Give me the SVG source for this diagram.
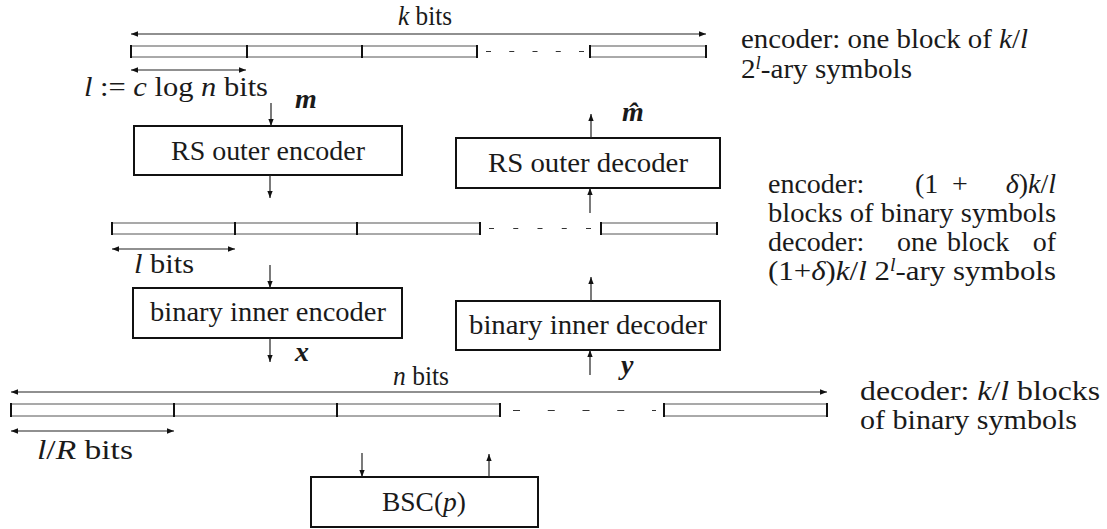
<svg xmlns="http://www.w3.org/2000/svg" width="1107" height="529" viewBox="0 0 1107 529" font-family="'Liberation Serif', 'Times New Roman', serif" font-size="28">
<defs>
  <marker id="ah" viewBox="0 0 10 10" refX="10" refY="5" markerWidth="7" markerHeight="7" orient="auto-start-reverse" markerUnits="userSpaceOnUse">
    <path d="M0,1.2 L10,5 L0,8.8 z" fill="#111"/>
  </marker>
</defs>
<style>
  text{fill:#1a1a1a}
  .i{font-style:italic}
  .bi{font-weight:bold;font-style:italic}
  .box{fill:#fff;stroke:#111;stroke-width:2}
  .cell{fill:#fff;stroke:#555;stroke-width:1}
  .div{stroke:#111;stroke-width:2}
  .dash{stroke:#333;stroke-width:1.2}
  .ar{stroke:#222;stroke-width:1.2;fill:none;marker-end:url(#ah)}
  .dar{stroke:#222;stroke-width:1.2;fill:none;marker-start:url(#ah);marker-end:url(#ah)}
</style>

<!-- symbol rows -->
<g id="row-k">
  <text x="425" y="25" text-anchor="middle" textLength="54" lengthAdjust="spacingAndGlyphs"><tspan class="i">k</tspan> bits</text>
  <line class="dar" x1="131" y1="34" x2="706" y2="34"/>
  <rect class="cell" x="131" y="46" width="346" height="11"/>
  <rect class="cell" x="590" y="46" width="116" height="11"/>
  <line class="div" x1="131" y1="45" x2="131" y2="58"/>
  <line class="div" x1="247" y1="45" x2="247" y2="58"/>
  <line class="div" x1="362" y1="45" x2="362" y2="58"/>
  <line class="div" x1="477" y1="45" x2="477" y2="58"/>
  <line class="div" x1="590" y1="45" x2="590" y2="58"/>
  <line class="div" x1="706" y1="45" x2="706" y2="58"/>
  <line class="dash" x1="486" y1="51.5" x2="584" y2="51.5" stroke-dasharray="5 18.25"/>
  <line class="dar" x1="131" y1="70" x2="246" y2="70"/>
  <text x="84" y="96" textLength="184" lengthAdjust="spacingAndGlyphs"><tspan class="i">l</tspan> := <tspan class="i">c</tspan> log <tspan class="i">n</tspan> bits</text>
</g>

<g id="row-mid">
  <rect class="cell" x="112" y="223" width="368" height="11"/>
  <rect class="cell" x="601" y="223" width="116" height="11"/>
  <line class="div" x1="112" y1="222" x2="112" y2="235"/>
  <line class="div" x1="235" y1="222" x2="235" y2="235"/>
  <line class="div" x1="357" y1="222" x2="357" y2="235"/>
  <line class="div" x1="480" y1="222" x2="480" y2="235"/>
  <line class="div" x1="601" y1="222" x2="601" y2="235"/>
  <line class="div" x1="717" y1="222" x2="717" y2="235"/>
  <line class="dash" x1="489" y1="228.5" x2="591" y2="228.5" stroke-dasharray="5 19.25"/>
  <line class="dar" x1="112" y1="249" x2="235" y2="249"/>
  <text x="134" y="273" textLength="60" lengthAdjust="spacingAndGlyphs"><tspan class="i">l</tspan> bits</text>
</g>

<g id="row-n">
  <text x="421" y="385" text-anchor="middle" textLength="56" lengthAdjust="spacingAndGlyphs"><tspan class="i">n</tspan> bits</text>
  <line class="dar" x1="11" y1="392" x2="827" y2="392"/>
  <rect class="cell" x="11" y="404" width="489" height="12"/>
  <rect class="cell" x="664" y="404" width="163" height="12"/>
  <line class="div" x1="11" y1="403" x2="11" y2="417"/>
  <line class="div" x1="174" y1="403" x2="174" y2="417"/>
  <line class="div" x1="337" y1="403" x2="337" y2="417"/>
  <line class="div" x1="500" y1="403" x2="500" y2="417"/>
  <line class="div" x1="664" y1="403" x2="664" y2="417"/>
  <line class="div" x1="827" y1="403" x2="827" y2="417"/>
  <line class="dash" x1="513" y1="410.5" x2="656" y2="410.5" stroke-dasharray="7 27.75"/>
  <line class="dar" x1="11" y1="431" x2="174" y2="431"/>
  <text x="37" y="459" textLength="96" lengthAdjust="spacingAndGlyphs"><tspan class="i">l</tspan>/<tspan class="i">R</tspan> bits</text>
</g>

<!-- processing blocks -->
<g id="rs-encoder">
  <rect class="box" x="134" y="126" width="268" height="49"/>
  <text x="268" y="160" text-anchor="middle" textLength="194" lengthAdjust="spacingAndGlyphs">RS outer encoder</text>
</g>
<g id="rs-decoder">
  <rect class="box" x="456" y="138" width="264" height="50"/>
  <text x="588" y="172" text-anchor="middle" textLength="200" lengthAdjust="spacingAndGlyphs">RS outer decoder</text>
</g>
<g id="inner-encoder">
  <rect class="box" x="133" y="288" width="269" height="50"/>
  <text x="268" y="321" text-anchor="middle" textLength="236" lengthAdjust="spacingAndGlyphs">binary inner encoder</text>
</g>
<g id="inner-decoder">
  <rect class="box" x="456" y="301" width="264" height="49"/>
  <text x="588" y="334" text-anchor="middle" textLength="238" lengthAdjust="spacingAndGlyphs">binary inner decoder</text>
</g>
<g id="bsc">
  <rect class="box" x="311" y="477" width="227" height="50"/>
  <text x="424" y="511" text-anchor="middle" textLength="84" lengthAdjust="spacingAndGlyphs">BSC(<tspan class="i">p</tspan>)</text>
</g>

<!-- connectors -->
<g id="connectors">
  <line class="ar" x1="271" y1="103" x2="271" y2="126"/>
  <line class="ar" x1="270" y1="175" x2="270" y2="198"/>
  <line class="ar" x1="591" y1="138" x2="591" y2="114"/>
  <line class="ar" x1="590" y1="213" x2="590" y2="188"/>
  <line class="ar" x1="270" y1="265" x2="270" y2="288"/>
  <line class="ar" x1="270" y1="338" x2="270" y2="362"/>
  <line class="ar" x1="591" y1="301" x2="591" y2="277"/>
  <line class="ar" x1="590" y1="375" x2="590" y2="350"/>
  <line class="ar" x1="362" y1="453" x2="362" y2="477"/>
  <line class="ar" x1="489" y1="477" x2="489" y2="454"/>
  <text class="bi" x="295" y="108">m</text>
  <text class="bi" x="622" y="121">m&#x302;</text>
  <text class="bi" x="295" y="361">x</text>
  <text class="bi" x="621" y="374">y</text>
</g>

<!-- annotations -->
<g id="notes">
  <text x="741" y="48" textLength="287" lengthAdjust="spacingAndGlyphs">encoder: one block of <tspan class="i">k</tspan>/<tspan class="i">l</tspan></text>
  <text x="741" y="78" textLength="171" lengthAdjust="spacingAndGlyphs">2<tspan class="i" font-size="18" dy="-9">l</tspan><tspan dy="9">-ary symbols</tspan></text>

  <text x="768" y="193">encoder:</text>
  <text x="915" y="193">(1</text>
  <text x="952" y="193">+</text>
  <text x="1056" y="193" text-anchor="end"><tspan class="i">δ</tspan>)<tspan class="i">k</tspan>/<tspan class="i">l</tspan></text>
  <text x="768" y="222" textLength="288" lengthAdjust="spacingAndGlyphs">blocks of binary symbols</text>
  <text x="768" y="251">decoder:</text>
  <text x="897" y="251">one</text>
  <text x="947" y="251">block</text>
  <text x="1056" y="251" text-anchor="end">of</text>
  <text x="768" y="280" textLength="288" lengthAdjust="spacingAndGlyphs">(1+<tspan class="i">δ</tspan>)<tspan class="i">k</tspan>/<tspan class="i">l</tspan> 2<tspan class="i" font-size="18" dy="-9">l</tspan><tspan dy="9">-ary symbols</tspan></text>

  <text x="860" y="400" textLength="240" lengthAdjust="spacingAndGlyphs">decoder: <tspan class="i">k</tspan>/<tspan class="i">l</tspan> blocks</text>
  <text x="860" y="429" textLength="217" lengthAdjust="spacingAndGlyphs">of binary symbols</text>
</g>
</svg>
